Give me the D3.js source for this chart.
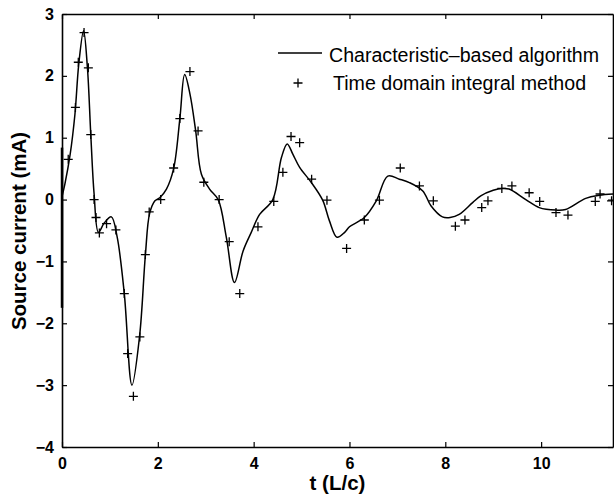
<!DOCTYPE html>
<html>
<head>
<meta charset="utf-8">
<script src="https://cdn.jsdelivr.net/npm/d3@7"></script>
<style>
  html, body { margin: 0; padding: 0; background: #fff; }
  svg { display: block; }
  text { font-family: "Liberation Sans", Arial, Helvetica, sans-serif; fill: #000; }
</style>
</head>
<body>
<svg id="chart" width="614" height="495"></svg>
<script>
// ---- data ----
const xTicks = [0, 2, 4, 6, 8, 10];
const yTicks = [-4, -3, -2, -1, 0, 1, 2, 3];

// Characteristic-based algorithm (solid line)
const lineT = [0, 0.06, 0.17, 0.27, 0.35, 0.45, 0.53, 0.60, 0.67, 0.76, 0.88, 1.03, 1.15, 1.30, 1.46, 1.62, 1.74, 1.83, 1.94, 2.04, 2.18, 2.33, 2.46, 2.56, 2.67, 2.79, 2.91, 3.08, 3.26, 3.43, 3.60, 3.78, 3.95, 4.125, 4.40, 4.58, 4.70, 4.82, 4.96, 5.20, 5.44, 5.58, 5.74, 5.90, 6.0, 6.31, 6.56, 6.80, 7.04, 7.25, 7.53, 7.70, 7.94, 8.10, 8.29, 8.57, 8.74, 9.0, 9.19, 9.33, 9.68, 9.96, 10.31, 10.51, 10.93, 11.21, 11.5];
const lineV = [0.05, 0.25, 0.73, 1.38, 2.19, 2.73, 2.14, 1.06, 0.09, -0.53, -0.38, -0.28, -0.6, -1.52, -3.0, -2.2, -0.9, -0.22, -0.02, 0.03, 0.17, 0.5, 1.31, 2.02, 1.71, 1.11, 0.41, 0.17, 0.0, -0.61, -1.34, -0.83, -0.53, -0.24, 0.0, 0.68, 0.90, 0.73, 0.52, 0.28, -0.01, -0.34, -0.61, -0.53, -0.44, -0.29, -0.02, 0.38, 0.33, 0.275, 0.14, -0.10, -0.28, -0.29, -0.24, -0.05, 0.06, 0.15, 0.18, 0.17, 0.0, -0.13, -0.17, -0.16, 0.02, 0.07, 0.09];

// initial transient spike at t = 0
const spikeT = [0, 0];
const spikeV = [0.84, -1.75];

// Time domain integral method (+ markers)
const markT = [0.13, 0.28, 0.34, 0.46, 0.55, 0.60, 0.67, 0.71, 0.78, 0.93, 1.125, 1.30, 1.37, 1.49, 1.625, 1.74, 1.82, 2.06, 2.33, 2.46, 2.67, 2.84, 2.96, 3.28, 3.49, 3.71, 4.09, 4.42, 4.61, 4.78, 4.96, 5.21, 5.53, 5.94, 6.31, 6.625, 7.06, 7.46, 7.75, 8.21, 8.41, 8.76, 8.89, 9.18, 9.39, 9.75, 9.97, 10.31, 10.56, 11.13, 11.23, 11.47];
const markV = [0.65, 1.49, 2.22, 2.70, 2.13, 1.05, 0.0, -0.29, -0.54, -0.39, -0.49, -1.52, -2.49, -3.18, -2.22, -0.89, -0.2, 0.0, 0.51, 1.31, 2.07, 1.11, 0.28, 0.0, -0.68, -1.52, -0.44, -0.03, 0.44, 1.02, 0.92, 0.33, -0.01, -0.79, -0.33, -0.01, 0.51, 0.22, -0.02, -0.43, -0.33, -0.13, -0.02, 0.18, 0.22, 0.11, -0.03, -0.21, -0.25, -0.03, 0.09, -0.02];

const legendLabels = ["Characteristic\u2013based algorithm", "Time domain integral method"];
const xLabel = "t (L/c)";
const yLabel = "Source current (mA)";

// ---- layout ----
const L = 62, R = 613, T = 14, B = 447;
const svg = d3.select("#chart");
const x = d3.scaleLinear().domain([0, 11.5]).range([L, R]);
const y = d3.scaleLinear().domain([-4, 3]).range([B, T]);
const fmt = d => d3.format("d")(d).replace("-", "\u2212");

// axes (ticks inward)
const tickFont = "16px";
const gx = svg.append("g").attr("transform", `translate(0,${B})`)
  .call(d3.axisBottom(x).tickValues(xTicks).tickSizeInner(-5).tickSizeOuter(0).tickPadding(10).tickFormat(fmt));
const gxTop = svg.append("g").attr("transform", `translate(0,${T})`)
  .call(d3.axisTop(x).tickValues(xTicks).tickSizeInner(-5).tickSizeOuter(0).tickFormat(""));
const gy = svg.append("g").attr("transform", `translate(${L},0)`)
  .call(d3.axisLeft(y).tickValues(yTicks).tickSizeInner(-5).tickSizeOuter(0).tickPadding(8).tickFormat(fmt));
const gyR = svg.append("g").attr("transform", `translate(${R},0)`)
  .call(d3.axisRight(y).tickValues(yTicks).tickSizeInner(-5).tickSizeOuter(0).tickFormat(""));

[gx, gxTop, gy, gyR].forEach(g => {
  g.select(".domain").attr("stroke", "#000").attr("stroke-width", 1.6);
  g.selectAll(".tick line").attr("stroke", "#000").attr("stroke-width", 1.2);
  g.selectAll(".tick text").attr("font-size", tickFont).attr("font-weight", "bold")
    .attr("font-family", "'Liberation Sans', Arial, sans-serif").attr("fill", "#000");
});
gx.selectAll(".tick text").attr("dy", "0.72em");

// axis titles
svg.append("text").attr("x", (x(0) + x(11.5)) / 2 + 0).attr("y", 490)
  .attr("text-anchor", "middle").attr("font-size", "20.5px").attr("font-weight", "bold").text(xLabel);
svg.append("text").attr("transform", `translate(26,${231}) rotate(-90)`)
  .attr("text-anchor", "middle").attr("font-size", "20.5px").attr("font-weight", "bold").text(yLabel);

// series line
const pts = lineT.map((t, i) => [t, lineV[i]]);
const line = d3.line().x(d => x(d[0])).y(d => y(d[1])).curve(d3.curveCatmullRom.alpha(0.5));
svg.append("path").datum(pts).attr("d", line)
  .attr("fill", "none").attr("stroke", "#000").attr("stroke-width", 1.5).attr("stroke-linejoin", "round");

const spike = spikeT.map((t, i) => [t, spikeV[i]]);
svg.append("path").datum(spike).attr("d", d3.line().x(d => x(d[0])).y(d => y(d[1])))
  .attr("fill", "none").attr("stroke", "#000").attr("stroke-width", 2.5);

// markers
const m = 4.5;
const marks = markT.map((t, i) => [t, markV[i]]);
const mg = svg.append("g");
mg.selectAll("path").data(marks).join("path")
  .attr("d", d => {
    const cx = x(d[0]), cy = y(d[1]);
    return `M${cx - m},${cy}H${cx + m}M${cx},${cy - m}V${cy + m}`;
  })
  .attr("stroke", "#000").attr("stroke-width", 1.3).attr("fill", "none");

// legend
const lg = svg.append("g");
lg.append("line").attr("x1", 278).attr("x2", 322).attr("y1", 53).attr("y2", 53)
  .attr("stroke", "#000").attr("stroke-width", 1.3);
lg.append("path").attr("d", `M${298 - m},83H${298 + m}M298,${83 - m}V${83 + m}`)
  .attr("stroke", "#000").attr("stroke-width", 1.3);
lg.append("text").attr("x", 329).attr("y", 55).attr("dy", "0.35em").attr("font-size", "19.6px").text(legendLabels[0]);
lg.append("text").attr("x", 333).attr("y", 83).attr("dy", "0.35em").attr("font-size", "19.6px").text(legendLabels[1]);
</script>
</body>
</html>
